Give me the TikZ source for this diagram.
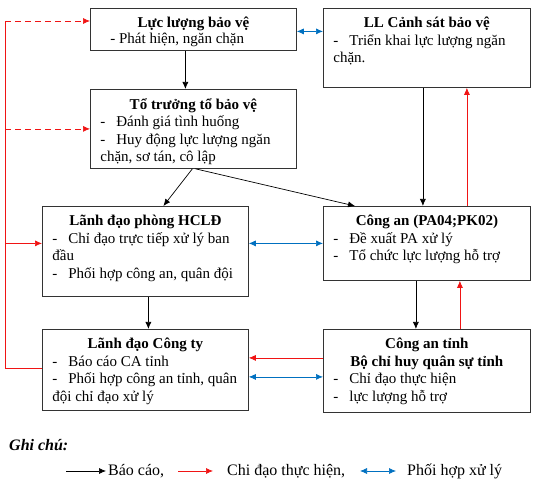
\documentclass[tikz,border=0pt]{standalone}
\usepackage{fontspec}
\setmainfont{Liberation Serif}
\usetikzlibrary{positioning,arrows.meta}
\definecolor{do}{RGB}{240,20,20}
\definecolor{xanh}{RGB}{0,112,192}
\newcommand{\gach}{\makebox[16pt][l]{-}}
\newcommand{\noidung}[3]{\parbox[t][#2pt][t]{#1pt}{\raggedright\vspace*{5pt}#3}}
\newcommand{\tieude}[1]{{\centering\textbf{#1}\par}}

\begin{document}
\begin{tikzpicture}[x=1pt,y=-1pt,
hop/.style={
  draw=black!80,
  line width=0.8pt,
  anchor=north west,
  inner xsep=10pt,
  inner ysep=4pt,
  font=\fontsize{15}{17.5}\selectfont
},
chu/.style={
  anchor=west,
  inner sep=0pt,
  font=\fontsize{16}{18}\selectfont
},
mui/.tip={Latex[length=7pt,width=6pt]},
den/.style={-mui, line width=0.7pt},
chidao/.style={-mui, color=do, line width=0.7pt},
phoihop/.style={mui-mui, color=xanh, line width=0.7pt},
netdut/.style={dash pattern=on 6pt off 4pt}
]
\useasboundingbox (0,0) rectangle (539,486);

\node[hop] (lucluong) at (90,8)
  {\noidung{186}{34}{\tieude{Lực lượng bảo vệ}\vspace*{-1.5pt}\hspace*{10pt}- Phát hiện, ngăn chặn}};
\node[hop] (canhsat) at (323,8)
  {\noidung{187}{71}{\tieude{LL Cảnh sát bảo vệ}\gach Triển khai lực lượng ngăn\\ chặn.}};
\node[hop] (totruong) at (90,89)
  {\noidung{186}{71}{\tieude{Tổ trưởng tổ bảo vệ}\gach Đánh giá tình huống\par\gach Huy động lực lượng ngăn\\ chặn, sơ tán, cô lập}};
\node[hop] (phonghcld) at (42,206)
  {\noidung{186}{82}{\tieude{Lãnh đạo phòng HCLĐ}\gach Chỉ đạo trực tiếp xử lý ban\\ đầu\par\gach Phối hợp công an, quân đội}};
\node[hop] (congan) at (323,206)
  {\noidung{187}{66}{\tieude{Công an (PA04;PK02)}\gach Đề xuất PA xử lý\par\gach Tổ chức lực lượng hỗ trợ}};
\node[hop] (congty) at (42,329)
  {\noidung{186}{73}{\tieude{Lãnh đạo Công ty}\gach Báo cáo CA tỉnh\par\gach Phối hợp công an tỉnh, quân\\ đội chỉ đạo xử lý}};
\node[hop] (congantinh) at (323,329)
  {\noidung{187}{75}{\tieude{Công an tỉnh\\ Bộ chỉ huy quân sự tỉnh}\gach Chỉ đạo thực hiện\par\gach lực lượng hỗ trợ}};

% bao cao
\draw[den] ([xshift=-8pt]lucluong.south) -- ([xshift=-8pt]totruong.north);
\draw[den] ([xshift=-1pt]totruong.south) -- ([xshift=18pt]phonghcld.north);
\draw[den] ([xshift=2pt]totruong.south) -- ([xshift=32pt]congan.north west);
\draw[den] ([xshift=-4pt]canhsat.south) -- ([xshift=-4pt]congan.north);
\draw[den] ([xshift=3pt]phonghcld.south) -- ([xshift=3pt]congty.north);
\draw[den] ([xshift=-11pt]congan.south) -- ([xshift=-11pt]congantinh.north);

% chi dao
\coordinate (le) at (5,21);
\draw[color=do, line width=0.7pt] ([yshift=2pt]congty.west) -| (le);
\draw[chidao, netdut] (le) -- (le -| lucluong.west);
\draw[chidao, netdut] (le |- totruong.west) -- (totruong.west);
\draw[chidao] (le |- congan.west) -- (congan.west -| phonghcld.west);
\draw[chidao] ([xshift=40pt]congan.north) -- ([xshift=40pt]canhsat.south);
\draw[chidao] ([xshift=33pt]congantinh.north) -- ([xshift=33pt]congan.south);
\draw[chidao] ([yshift=13pt]congantinh.west) -- ([yshift=13pt]congantinh.west -| congty.east);

% phoi hop
\draw[phoihop] ([yshift=-2pt]lucluong.east) -- ([yshift=-2pt]lucluong.east -| canhsat.west);
\draw[phoihop] (congan.west -| phonghcld.east) -- (congan.west);
\draw[phoihop] ([yshift=-7pt]congty.east) -- ([yshift=-7pt]congty.east -| congantinh.west);

% ghi chu
\node[chu, font=\fontsize{16}{18}\selectfont\bfseries\itshape] (ghichu) at (9,445) {Ghi chú:};
\node[chu] (baocao) at (108,471) {Báo cáo,};
\node[chu] (chidaoth) at (227,471) {Chi đạo thực hiện,};
\node[chu] (phoihopxl) at (407,471) {Phối hợp xử lý};
\draw[den] ([xshift=-42pt]baocao.west) -- ([xshift=-2pt]baocao.west);
\draw[chidao] ([xshift=-49pt]chidaoth.west) -- ([xshift=-14pt]chidaoth.west);
\draw[phoihop] ([xshift=-47pt]phoihopxl.west) -- ([xshift=-11pt]phoihopxl.west);
\end{tikzpicture}
\end{document}
